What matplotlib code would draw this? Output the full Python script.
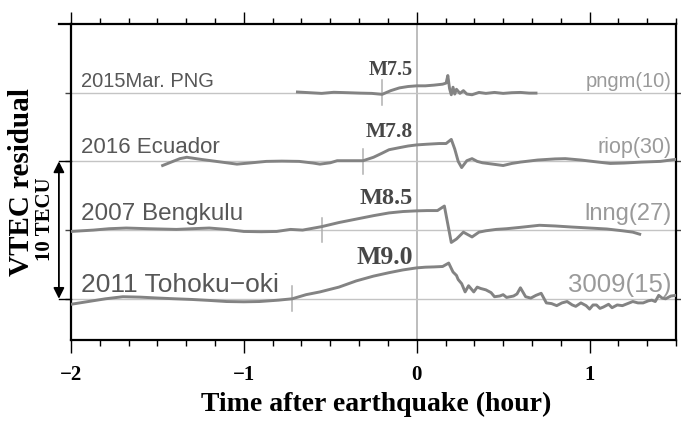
import matplotlib.pyplot as plt
import matplotlib.transforms as mtransforms

# event order from bottom to top, offsets in TECU (spacing 5 TECU)
events = ['2011 Tohoku\u2212oki', '2007 Bengkulu', '2016 Ecuador', '2015Mar. PNG']
stations = ['3009(15)', 'lnng(27)', 'riop(30)', 'pngm(10)']
magnitudes = ['M9.0', 'M8.5', 'M7.8', 'M7.5']
offsets = [0, 5, 10, 15]
onsets = [-0.72, -0.55, -0.31, -0.20]

# VTEC residual traces (hour, TECU)
tohoku_t = [-2.0, -1.9, -1.8, -1.7, -1.6, -1.49, -1.4, -1.3, -1.2, -1.1, -1.0, -0.91,
            -0.8, -0.72, -0.64, -0.56, -0.45, -0.35, -0.25, -0.16, -0.08, 0.0, 0.05,
            0.1, 0.15, 0.185, 0.21, 0.23, 0.24, 0.26, 0.28, 0.3, 0.33, 0.35, 0.37,
            0.4, 0.43, 0.45, 0.48, 0.5, 0.52, 0.54, 0.56, 0.58, 0.6, 0.63, 0.66,
            0.69, 0.72, 0.75, 0.78, 0.81, 0.84, 0.87, 0.9, 0.92, 0.95, 0.98, 1.0,
            1.02, 1.04, 1.06, 1.08, 1.11, 1.13, 1.16, 1.19, 1.22, 1.25, 1.28, 1.31,
            1.34, 1.36, 1.38, 1.4, 1.42, 1.44, 1.47, 1.5]
tohoku_v = [-0.4, -0.2, 0.0, 0.15, 0.12, 0.05, 0.0, -0.05, -0.12, -0.2, -0.22, -0.2,
            -0.1, 0.0, 0.3, 0.5, 0.85, 1.3, 1.65, 1.9, 2.1, 2.25, 2.3,
            2.32, 2.35, 2.6, 1.95, 1.7, 1.4, 1.1, 0.5, 0.95, 0.5, 0.85, 0.75,
            0.65, 0.45, 0.15, 0.2, 0.3, 0.1, 0.15, 0.2, 0.35, 0.8, 0.15, 0.05,
            0.25, 0.4, -0.3, -0.35, -0.5, -0.3, -0.2, -0.45, -0.55, -0.3, -0.5, -0.75,
            -0.45, -0.45, -0.7, -0.6, -0.4, -0.65, -0.45, -0.5, -0.35, -0.2, -0.3, -0.3,
            -0.15, -0.1, -0.2, 0.25, 0.05, 0.0, 0.2, 0.25]

bengkulu_t = [-2.0, -1.87, -1.78, -1.68, -1.55, -1.39, -1.3, -1.2, -1.1, -1.0, -0.9,
              -0.81, -0.73, -0.66, -0.55, -0.45, -0.35, -0.25, -0.16, -0.08, 0.0,
              0.06, 0.12, 0.16, 0.2, 0.23, 0.27, 0.32, 0.36, 0.4, 0.46, 0.52, 0.6,
              0.71, 0.8, 0.9, 1.0, 1.1, 1.19, 1.25, 1.29]
bengkulu_v = [-0.1, 0.0, 0.1, 0.15, 0.1, 0.05, 0.1, 0.15, 0.05, -0.1, -0.12,
              -0.1, 0.05, 0.0, 0.25, 0.55, 0.8, 1.05, 1.25, 1.35, 1.4,
              1.42, 1.42, 1.75, -0.9, -0.65, -0.15, -0.5, -0.15, -0.05, 0.05, 0.1, 0.2,
              0.35, 0.3, 0.22, 0.15, 0.08, -0.05, -0.15, -0.3]

ecuador_t = [-1.47, -1.42, -1.37, -1.33, -1.25, -1.16, -1.1, -1.04, -0.97, -0.87,
             -0.78, -0.68, -0.6, -0.56, -0.5, -0.46, -0.38, -0.31, -0.25, -0.2,
             -0.16, -0.1, -0.05, 0.0, 0.06, 0.13, 0.17, 0.2, 0.22, 0.24, 0.26,
             0.29, 0.32, 0.35, 0.38, 0.44, 0.5, 0.55, 0.6, 0.7, 0.8, 0.86, 0.95,
             1.05, 1.12, 1.2, 1.3, 1.41, 1.5]
ecuador_v = [-0.3, -0.05, 0.2, 0.3, 0.15, 0.0, -0.1, -0.2, -0.12, 0.0,
             0.02, 0.0, -0.12, -0.2, -0.1, 0.05, 0.05, 0.05, 0.3, 0.6,
             0.85, 1.0, 1.12, 1.2, 1.25, 1.3, 1.3, 1.6, 0.9, 0.0, -0.45,
             0.05, 0.2, 0.0, -0.1, -0.2, -0.3, -0.15, -0.05, 0.1, 0.18, 0.2, 0.1,
             -0.05, -0.15, -0.12, -0.05, 0.0, 0.15]

png_t = [-0.69, -0.62, -0.55, -0.48, -0.4, -0.33, -0.26, -0.2, -0.15, -0.1, -0.05,
         0.0, 0.05, 0.1, 0.15, 0.17, 0.18, 0.19, 0.2, 0.21, 0.22, 0.23, 0.25,
         0.27, 0.29, 0.32, 0.36, 0.4, 0.45, 0.5, 0.55, 0.6, 0.65, 0.69]
png_v = [0.05, 0.0, -0.05, 0.03, 0.0, -0.03, -0.05, -0.12, 0.15, 0.35, 0.45,
         0.5, 0.5, 0.55, 0.62, 0.7, 1.25, 0.3, -0.15, 0.4, -0.1, 0.25, -0.05,
         0.15, -0.1, -0.15, 0.02, -0.05, 0.02, -0.05, 0.0, 0.02, -0.03, -0.03]

times = [tohoku_t, bengkulu_t, ecuador_t, png_t]
values = [tohoku_v, bengkulu_v, ecuador_v, png_v]

label_sizes = [19, 17.5, 16, 14.5]
station_sizes = [18.5, 17, 15.5, 14.5]
mag_sizes = [18.5, 17.5, 15.5, 14.5]
label_dy = [0.5, 0.7, 0.6, 0.45]
mag_dy = [2.55, 1.9, 1.8, 1.3]

serif = ['Liberation Serif', 'DejaVu Serif']
sans = ['Liberation Sans', 'DejaVu Sans']

fig = plt.figure(figsize=(6.81, 4.21), dpi=100)
ax = fig.add_axes([71 / 681, 1 - 340 / 421, 605 / 681, 316 / 421])
ax.set_xlim(-2, 1.5)
ax.set_ylim(-3, 20)

ax.axvline(0, color='#bdbdbd', lw=1.4, zorder=1)
for i in range(4):
    off = offsets[i]
    ax.axhline(off, color='#c4c4c4', lw=1.0, zorder=1)
    ax.plot([onsets[i], onsets[i]], [off - 0.9, off + 0.9], color='#b0b0b0', lw=1.1, zorder=1)
    ax.plot(times[i], [v + off for v in values[i]], color='#838383', lw=2.1, zorder=3)
    ax.text(-1.945, off + label_dy[i], events[i], fontsize=label_sizes[i], color='#575757',
            family=sans, ha='left', va='baseline')
    ax.text(1.474, off + label_dy[i], stations[i], fontsize=station_sizes[i], color='#9a9a9a',
            family=sans, ha='right', va='baseline')
    ax.text(-0.02, off + mag_dy[i], magnitudes[i], fontsize=mag_sizes[i], color='#474747',
            family=serif, fontweight='bold', ha='right', va='baseline')

# axes and ticks
for s in ax.spines.values():
    s.set_linewidth(1.6)
ax.set_xticks([-2, -1, 0, 1])
ax.set_xticklabels(['\u22122', '\u22121', '0', '1'], fontsize=15, fontweight='bold', family=serif)
ax.set_xticks([-2 + k / 6 for k in range(22)], minor=True)
ax.tick_params(axis='x', which='major', direction='out', length=9, width=1.0,
               top=True, bottom=True, pad=9)
ax.tick_params(axis='x', which='minor', direction='out', length=4.5, width=1.0,
               top=True, bottom=True)
ax.set_yticks(offsets)
ax.tick_params(axis='y', direction='out', length=4, width=1.0, left=True, right=True,
               labelleft=False, colors='#444444')

ax.set_xlabel('Time after earthquake (hour)', fontsize=20, fontweight='bold', family=serif)
ax.xaxis.set_label_coords(0.504, -0.205)
ax.xaxis.label.set_va('center')
ax.set_ylabel('VTEC residual', fontsize=21, fontweight='bold', family=serif)
ax.yaxis.set_label_coords(-0.081, 0.5)
ax.yaxis.label.set_va('center')

# 10 TECU scale bar
trans = mtransforms.blended_transform_factory(ax.transAxes, ax.transData)
ax.annotate('', xy=(-0.02, 0), xytext=(-0.02, 10), xycoords=trans, textcoords=trans,
            arrowprops=dict(arrowstyle='<|-|>', color='black', lw=1.3,
                            mutation_scale=16, shrinkA=0, shrinkB=0),
            annotation_clip=False)
for yb in [0, 10]:
    ax.plot([-0.02, 0], [yb, yb], color='black', lw=1.0, transform=trans, clip_on=False)
ax.plot([-0.02, 0], [1, 1], color='black', lw=1.6, transform=ax.transAxes, clip_on=False)
ax.text(-0.043, 5.77, '10 TECU', transform=trans, rotation=90, fontsize=15,
        fontweight='bold', family=serif, ha='center', va='center')

fig.savefig('out.png', dpi=100)
